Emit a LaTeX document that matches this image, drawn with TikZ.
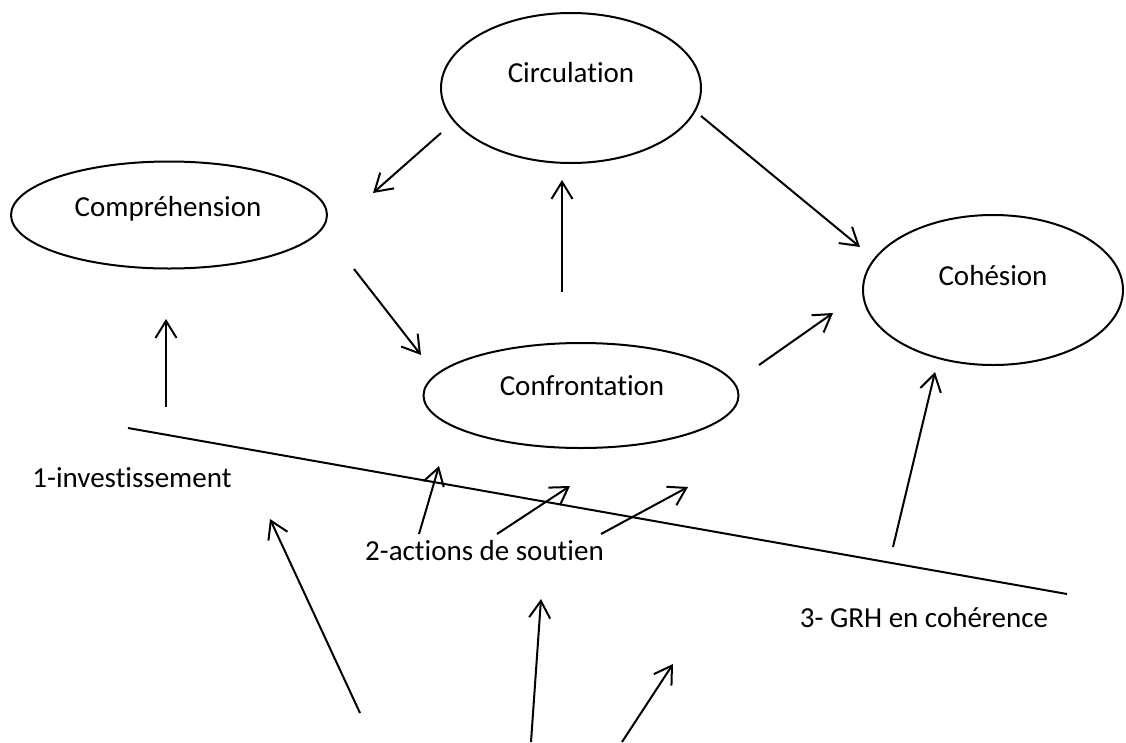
\documentclass[tikz,border=0pt]{standalone}
\usepackage{fontspec}
\setmainfont[Ligatures=NoCommon]{Carlito}
\usetikzlibrary{shapes.geometric,arrows.meta}
\begin{document}
\begin{tikzpicture}[x=1pt,y=-1pt,
  bubble/.style={ellipse,draw,line width=2pt,inner sep=0pt},
  txt/.style={anchor=base,inner sep=0pt,font=\fontsize{29}{34}\selectfont},
  conn/.style={line width=2pt,-{Straight Barb[length=17pt,width=21pt,line width=2pt]}},
  plain/.style={line width=2pt}]
\useasboundingbox (0,0) rectangle (1126,742);
% ellipses
\node[bubble,minimum width=260pt,minimum height=150pt] (circ) at (571,88) {};
\node[bubble,minimum width=316pt,minimum height=107pt] (comp) at (169,215) {};
\node[bubble,minimum width=315pt,minimum height=105pt] (conf) at (581,395.5) {};
\node[bubble,minimum width=260pt,minimum height=150pt] (coh) at (993,290) {};
% texts
\node[txt] (circT) at (571,82) {Circulation};
\node[txt] (compT) at (168,216) {Compréhension};
\node[txt] (confT) at (582,395) {Confrontation};
\node[txt] (cohT) at (993,285) {Cohésion};
\node[txt] (l1) at (132,487) {1-investissement};
\node[txt] (l2) at (484.5,560) {2-actions de soutien};
\node[txt] (l3) at (924,627) {3- GRH en cohérence};
% coordinates
\coordinate (a1s) at (441,133); \coordinate (a1e) at (373,193);
\coordinate (a2s) at (354,269); \coordinate (a2e) at (421,355);
\coordinate (a3s) at (562,292); \coordinate (a3e) at (562,180);
\coordinate (a4s) at (701,116); \coordinate (a4e) at (860,247);
\coordinate (a5s) at (759,365); \coordinate (a5e) at (833,313);
\coordinate (a6s) at (166,407); \coordinate (a6e) at (166,319);
\coordinate (Ls) at (128,428); \coordinate (Le) at (1067,594);
\coordinate (b1s) at (419,534); \coordinate (b1e) at (439,466);
\coordinate (b2s) at (497,534); \coordinate (b2e) at (570,486);
\coordinate (b3s) at (601,534); \coordinate (b3e) at (688,487);
\coordinate (c1s) at (893,547); \coordinate (c1e) at (935,372);
\coordinate (d1s) at (360,713); \coordinate (d1e) at (270,519);
\coordinate (d2s) at (531,742); \coordinate (d2e) at (541,599);
\coordinate (d3s) at (622,742); \coordinate (d3e) at (673,664);
% connectors
\draw[conn] (a1s) -- (a1e);
\draw[conn] (a2s) -- (a2e);
\draw[conn] (a3s) -- (a3e);
\draw[conn] (a4s) -- (a4e);
\draw[conn] (a5s) -- (a5e);
\draw[conn] (a6s) -- (a6e);
\draw[plain] (Ls) -- (Le);
\draw[conn] (b1s) -- (b1e);
\draw[conn] (b2s) -- (b2e);
\draw[conn] (b3s) -- (b3e);
\draw[conn] (c1s) -- (c1e);
\draw[conn] (d1s) -- (d1e);
\draw[conn] (d2s) -- (d2e);
\draw[conn] (d3s) -- (d3e);
\end{tikzpicture}
\end{document}
